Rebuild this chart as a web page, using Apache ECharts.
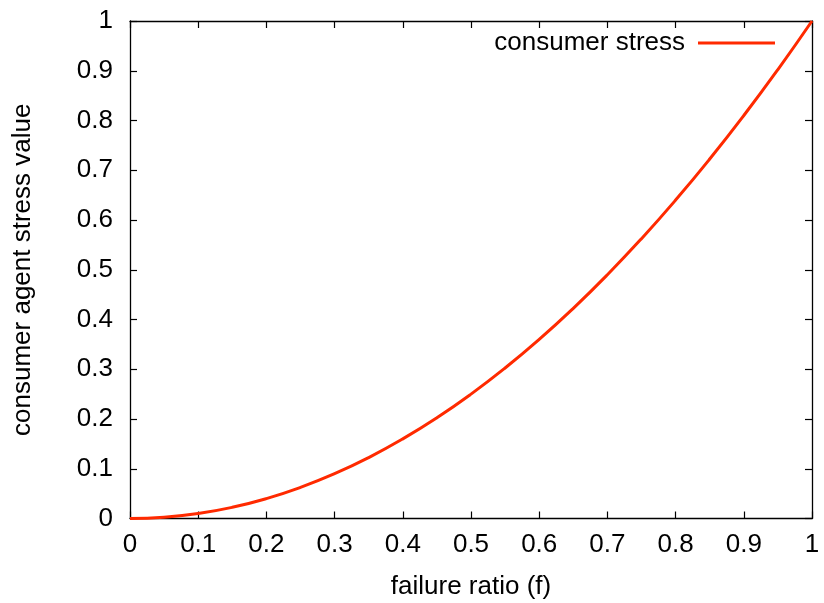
<!DOCTYPE html>
<html><head><meta charset="utf-8">
<script src="https://cdn.jsdelivr.net/npm/echarts@6/dist/echarts.min.js"></script>
<style>html,body{margin:0;padding:0;background:#fff}#c{width:824px;height:603px}</style>
</head><body><div id="c"></div>
<script>
const failureRatio = [0,0.05,0.1,0.15,0.2,0.25,0.3,0.35,0.4,0.45,0.5,0.55,0.6,0.65,0.7,0.75,0.8,0.85,0.9,0.95,1];
const consumerStress = [0,0.0025,0.01,0.0225,0.04,0.0625,0.09,0.1225,0.16,0.2025,0.25,0.3025,0.36,0.4225,0.49,0.5625,0.64,0.7225,0.81,0.9025,1];
const tickLabels = ['0','0.1','0.2','0.3','0.4','0.5','0.6','0.7','0.8','0.9','1'];
const font = 'Liberation Sans, Arial, Helvetica, sans-serif';
const fs = 26;
const fmt = v => tickLabels[Math.round(v*10)];
const lineColor = '#ff2a00';
const axBase = {
  type:'value', min:0, max:1, interval:0.1,
  axisLine:{show:true,onZero:false,lineStyle:{color:'#000',width:1.3}},
  axisTick:{show:true,inside:true,length:7,lineStyle:{color:'#000',width:1.2}},
  splitLine:{show:false}
};
const chart = echarts.init(document.getElementById('c'));
chart.setOption({
  animation:false,
  backgroundColor:'#fff',
  grid:{left:130,right:12,top:21,bottom:84.5,containLabel:false,outerBoundsMode:'none'},
  legend:{
    right:44, top:25, align:'right', icon:'rect', itemWidth:77, itemHeight:3, itemGap:0,
    textStyle:{fontFamily:font,fontSize:fs,color:'#000',padding:[0,8,0,0]},
    data:[{name:'consumer stress'}]
  },
  xAxis:[
    Object.assign({}, axBase, {position:'bottom', name:'failure ratio (f)', nameLocation:'middle', nameGap:55,
      nameTextStyle:{fontFamily:font,fontSize:fs,color:'#000'},
      axisLabel:{formatter:fmt,fontFamily:font,fontSize:fs,color:'#000',margin:13}}),
    Object.assign({}, axBase, {position:'top', axisLabel:{show:false}})
  ],
  yAxis:[
    Object.assign({}, axBase, {position:'left', name:'consumer agent stress value', nameLocation:'middle', nameGap:94,
      nameTextStyle:{fontFamily:font,fontSize:fs,color:'#000'},
      axisLabel:{formatter:fmt,fontFamily:font,fontSize:fs,color:'#000',margin:17}}),
    Object.assign({}, axBase, {position:'right', axisLabel:{show:false}})
  ],
  series:[{
    name:'consumer stress', type:'line', xAxisIndex:0, yAxisIndex:0,
    data: failureRatio.map((x,i)=>[x,consumerStress[i]]),
    smooth:true, showSymbol:false, symbol:'none',
    lineStyle:{color:lineColor,width:3}, itemStyle:{color:lineColor}
  }]
});
</script></body></html>
